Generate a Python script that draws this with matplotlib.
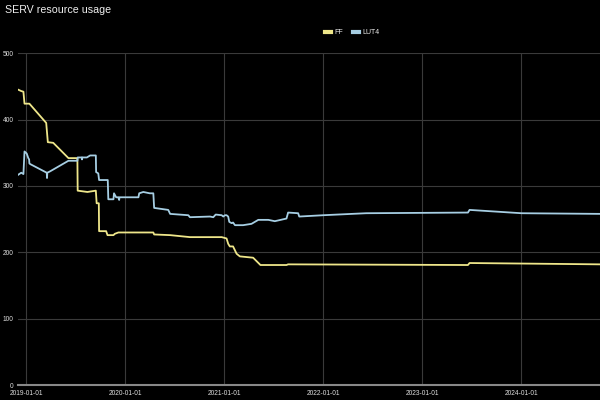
import matplotlib
matplotlib.use("Agg")
import matplotlib.pyplot as plt
import matplotlib.dates as mdates
import pandas as pd

plt.rcParams['font.family'] = ['Liberation Sans', 'DejaVu Sans']

ff_dates = ["2018-12-03", "2018-12-14", "2018-12-22", "2018-12-26", "2019-01-13",
            "2019-03-16", "2019-03-22", "2019-04-11", "2019-06-06", "2019-07-09",
            "2019-07-10", "2019-08-15", "2019-09-15", "2019-09-18", "2019-09-26",
            "2019-09-27", "2019-10-23", "2019-10-28", "2019-11-19", "2019-11-24",
            "2019-12-07", "2020-04-14", "2020-04-17", "2020-06-15", "2020-08-27",
            "2020-12-22", "2021-01-09", "2021-01-15", "2021-01-21", "2021-02-02",
            "2021-02-15", "2021-02-27", "2021-04-17", "2021-05-14", "2021-08-18",
            "2021-08-24", "2023-06-18", "2023-06-24", "2024-10-17"]
ff_values = [445, 443, 442, 424, 424,
             395, 366, 365, 342, 342,
             293, 291, 293, 274, 274,
             232, 232, 226, 226, 228,
             230, 230, 227, 226, 223,
             223, 221, 213, 209, 209,
             198, 194, 192, 181, 181,
             182, 181, 184, 182]

lut4_dates = ["2018-12-03", "2018-12-14", "2018-12-22", "2018-12-26", "2019-01-03",
              "2019-01-09", "2019-01-12", "2019-01-13", "2019-01-16", "2019-03-18",
              "2019-03-19", "2019-03-20", "2019-03-30", "2019-06-06", "2019-07-09",
              "2019-07-10", "2019-07-25", "2019-07-26", "2019-07-27", "2019-08-13",
              "2019-08-25", "2019-09-15", "2019-09-16", "2019-09-24", "2019-09-27",
              "2019-10-29", "2019-10-31", "2019-11-19", "2019-11-21", "2019-11-29",
              "2019-12-07", "2019-12-10", "2019-12-11", "2020-02-19", "2020-02-22",
              "2020-03-08", "2020-04-01", "2020-04-14", "2020-04-17", "2020-06-08",
              "2020-06-15", "2020-08-21", "2020-08-27", "2020-11-09", "2020-11-21",
              "2020-11-30", "2020-12-22", "2020-12-28", "2021-01-03", "2021-01-09",
              "2021-01-15", "2021-01-19", "2021-01-28", "2021-02-02", "2021-02-09",
              "2021-03-11", "2021-04-11", "2021-05-06", "2021-06-12", "2021-07-06",
              "2021-08-18", "2021-08-24", "2021-09-30", "2021-10-04", "2022-01-01",
              "2022-06-08", "2023-06-18", "2023-06-24", "2024-01-01", "2024-10-17"]
lut4_values = [317, 320, 318, 352, 349,
               342, 340, 334, 333, 320,
               312, 320, 322, 338, 338,
               343, 343, 340, 343, 343,
               346, 346, 321, 319, 309,
               309, 280, 280, 289, 283,
               283, 279, 283, 283, 289,
               291, 289, 289, 267, 264,
               258, 256, 253, 254, 253,
               257, 256, 254, 256, 256,
               254, 246, 244, 245, 241,
               241, 243, 249, 249, 247,
               251, 260, 259, 254, 256,
               259, 260, 264, 259, 258]

series_names = ["FF", "LUT4"]
series_colors = ["#eee68a", "#a6cee3"]
x_ticks = ["2019-01-01", "2020-01-01", "2021-01-01", "2022-01-01", "2023-01-01", "2024-01-01"]
y_ticks = [0, 100, 200, 300, 400, 500]

fig = plt.figure(figsize=(6, 4), dpi=100, facecolor="black")
ax = fig.add_axes([0.03, 0.037, 0.97, 0.83], facecolor="black")

ax.plot(pd.to_datetime(ff_dates), ff_values, color=series_colors[0], lw=1.3, label=series_names[0])
ax.plot(pd.to_datetime(lut4_dates), lut4_values, color=series_colors[1], lw=1.3, label=series_names[1])

ax.set_xlim(pd.Timestamp("2018-12-02"), pd.Timestamp("2024-10-17"))
ax.set_ylim(0, 500)
ax.set_yticks(y_ticks)
ax.set_xticks(pd.to_datetime(x_ticks))
ax.xaxis.set_major_formatter(mdates.DateFormatter("%Y-%m-%d"))
ax.grid(True, color="#3a3a3a", lw=0.8)
ax.set_axisbelow(True)
for s in ["top", "right", "left"]:
    ax.spines[s].set_visible(False)
ax.spines["bottom"].set_color("#888888")
ax.spines["bottom"].set_linewidth(1.5)
ax.tick_params(axis="both", colors="#dddddd", labelsize=4.8, length=0)
ax.tick_params(axis="y", pad=3)
ax.tick_params(axis="x", pad=3.5)

fig.text(0.008, 0.974, "SERV resource usage", color="#eeeeee", fontsize=7.7, va="center", ha="left")

leg = fig.legend(loc="center", bbox_to_anchor=(0.587, 0.918), ncol=2, frameon=False,
                 fontsize=5, labelcolor="#eeeeee", handlelength=0.9, handleheight=0.6,
                 columnspacing=1.3, handletextpad=0.5)
for line in leg.get_lines():
    line.set_linewidth(3)

fig.savefig("out.png", dpi=100, facecolor="black")
